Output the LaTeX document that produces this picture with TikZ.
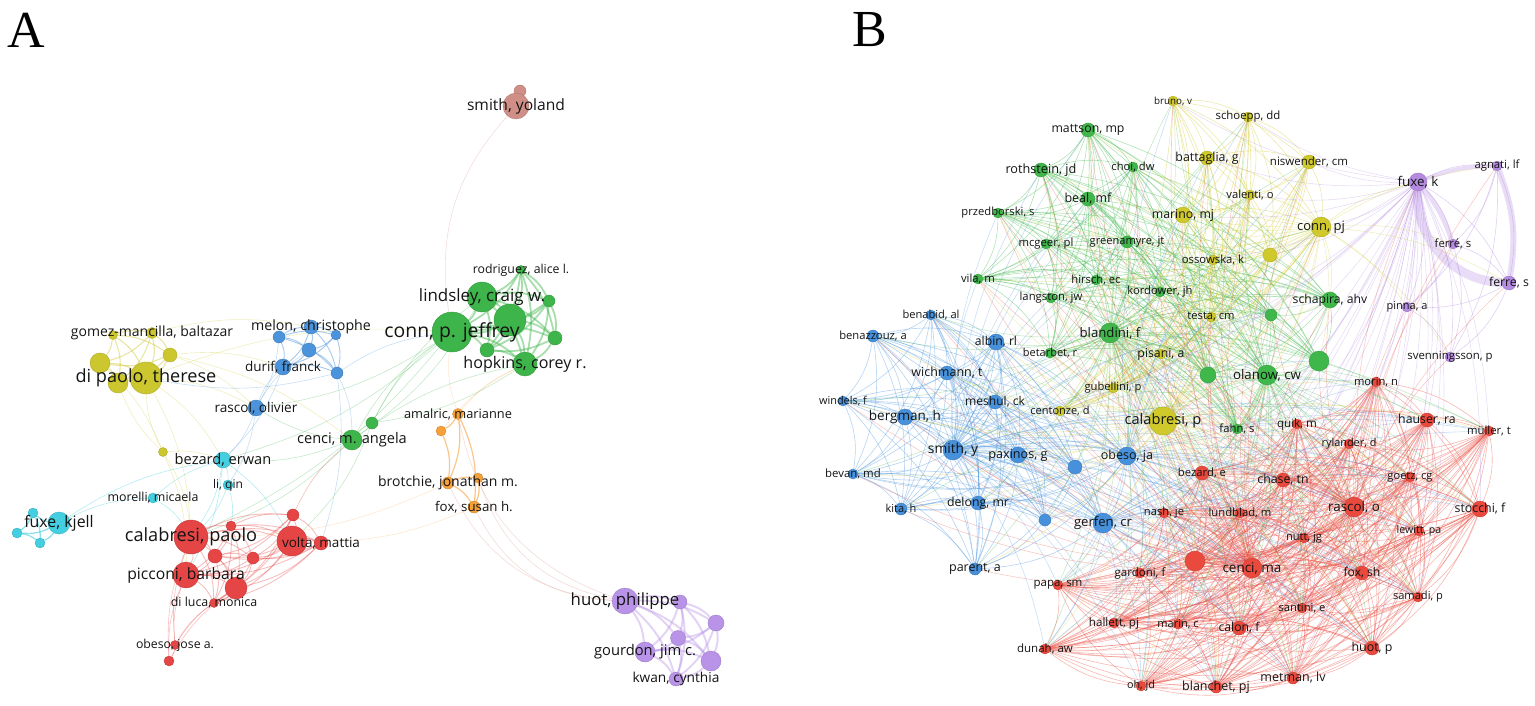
\documentclass[tikz,border=0pt]{standalone}
\usepackage{fontspec}
\setmainfont{Open Sans}
\newfontfamily\panelfont{Liberation Serif}
\usetikzlibrary{backgrounds}
\definecolor{redA}{HTML}{E64545}
\definecolor{greenA}{HTML}{3DB54A}
\definecolor{yelA}{HTML}{CCC72F}
\definecolor{blueA}{HTML}{4B93DA}
\definecolor{cyanA}{HTML}{44CFE0}
\definecolor{orangeA}{HTML}{F6A03A}
\definecolor{purpA}{HTML}{B893E8}
\definecolor{rosyA}{HTML}{CF8F86}
\definecolor{redB}{HTML}{EA4A3E}
\definecolor{greenB}{HTML}{3FB74B}
\definecolor{yelB}{HTML}{D0C92C}
\definecolor{blueB}{HTML}{4791DC}
\definecolor{purpB}{HTML}{B48BE0}

% author lists of panel B, one per cluster
\def\redB{morin,quik,hauser,muller,rylander,bezardB,chase,goetz,rascolB,stocchi,nash,lundblad,nutt,lewitt,rbx,cenciB,gardoni,foxB,samadi,santini,hallett,marin,calon,huotB,metman,ohjd,blanchet,papa,dunah}
\def\bluB{benabid,benazzouz,albin,wichmann,windels,meshul,bergman,smithB,paxinos,bbx,obesoB,bevan,kita,delong,bby,gerfen,parent}
\def\grnB{mattson,rothstein,choi,beal,przedborski,mcgeer,greenamyre,vila,hirsch,langston,kordower,blandini,betarbet,schapira,gbx,gby,gbz,olanow,fahn}
\def\yelBl{bruno,schoepp,battaglia,niswender,valenti,marino,connB,ossowska,ybx,testa,pisani,gubellini,centonze,calabB}
\def\purB{fuxeB,agnati,ferreacc,ferre,pinna,svenningsson}

\begin{document}
\begin{tikzpicture}[x=1pt, y=-1pt,
  au/.style={circle, inner sep=0pt, fill=#1, draw=#1!85!black, line width=.4pt},
  lab/.style={font=\fontsize{#1}{#1}\selectfont, text=black!92, inner sep=0pt},
  lk/.style={draw=#1, draw opacity=.4, line width=.6pt},
  panel/.style={font=\panelfont\fontsize{52}{52}\selectfont, inner sep=0pt}
]
\useasboundingbox (0,0) rectangle (1535,706);

\node[panel] (tA) at (26,30) {A};
\node[panel] (tB) at (870,30) {B};

%% ---------------- panel A ----------------
% yellow
\node[au=yelA, minimum size=9pt] (ya1) at (113,335) {};
\node[au=yelA, minimum size=11pt] (gomez) at (152,333) {};
\node[au=yelA, minimum size=14pt] (ya3) at (170,355) {};
\node[au=yelA, minimum size=20pt] (ya4) at (100,363) {};
\node[au=yelA, minimum size=20pt] (ya5) at (118,383) {};
\node[au=yelA, minimum size=32pt] (dipaolo) at (146,378) {};
\node[au=yelA, minimum size=9pt] (ya6) at (163,452) {};
% blue
\node[au=blueA, minimum size=12pt] (ba1) at (279,337) {};
\node[au=blueA, minimum size=14pt] (melon) at (311,327) {};
\node[au=blueA, minimum size=10pt] (ba2) at (336,335) {};
\node[au=blueA, minimum size=14pt] (ba3) at (309,350) {};
\node[au=blueA, minimum size=16pt] (durif) at (283,367) {};
\node[au=blueA, minimum size=12pt] (ba4) at (337,373) {};
\node[au=blueA, minimum size=16pt] (rascolA) at (256,408) {};
% green
\node[au=greenA, minimum size=12pt] (ga1) at (372,423) {};
\node[au=greenA, minimum size=20pt] (cenciA) at (352,440) {};
\node[au=greenA, minimum size=9pt] (rodriguez) at (521,270) {};
\node[au=greenA, minimum size=30pt] (lindsley) at (482,297) {};
\node[au=greenA, minimum size=12pt] (ga2) at (549,301) {};
\node[au=greenA, minimum size=32pt] (ga3) at (510,320) {};
\node[au=greenA, minimum size=40pt] (connA) at (452,332) {};
\node[au=greenA, minimum size=14pt] (ga4) at (555,338) {};
\node[au=greenA, minimum size=14pt] (ga5) at (487,350) {};
\node[au=greenA, minimum size=24pt] (hopkins) at (525,364) {};
% cyan
\node[au=cyanA, minimum size=16pt] (bezardA) at (223,460) {};
\node[au=cyanA, minimum size=10pt] (liqin) at (228,485) {};
\node[au=cyanA, minimum size=10pt] (morelli) at (153,498) {};
\node[au=cyanA, minimum size=22pt] (fuxeA) at (59,523) {};
\node[au=cyanA, minimum size=10pt] (ca1) at (33,513) {};
\node[au=cyanA, minimum size=10pt] (ca2) at (17,533) {};
\node[au=cyanA, minimum size=10pt] (ca3) at (40,543) {};
% red
\node[au=redA, minimum size=34pt] (calabA) at (191,537) {};
\node[au=redA, minimum size=10pt] (ra1) at (231,526) {};
\node[au=redA, minimum size=12pt] (ra2) at (293,515) {};
\node[au=redA, minimum size=30pt] (voltaB) at (292,541) {};
\node[au=redA, minimum size=14pt] (volta) at (321,543) {};
\node[au=redA, minimum size=14pt] (ra3) at (215,556) {};
\node[au=redA, minimum size=12pt] (ra4) at (253,558) {};
\node[au=redA, minimum size=26pt] (picconi) at (186,575) {};
\node[au=redA, minimum size=22pt] (ra5) at (236,588) {};
\node[au=redA, minimum size=9pt] (diluca) at (214,603) {};
\node[au=redA, minimum size=9pt] (obesoA) at (175,645) {};
\node[au=redA, minimum size=10pt] (ra6) at (169,661) {};
% orange
\node[au=orangeA, minimum size=11pt] (amalric) at (458,414) {};
\node[au=orangeA, minimum size=10pt] (oa1) at (441,431) {};
\node[au=orangeA, minimum size=12pt] (brotchie) at (448,483) {};
\node[au=orangeA, minimum size=10pt] (oa2) at (478,478) {};
\node[au=orangeA, minimum size=12pt] (foxA) at (474,507) {};
% purple
\node[au=purpA, minimum size=26pt] (huotA) at (625,601) {};
\node[au=purpA, minimum size=14pt] (pa1) at (680,602) {};
\node[au=purpA, minimum size=16pt] (pa2) at (716,623) {};
\node[au=purpA, minimum size=15pt] (pa3) at (678,638) {};
\node[au=purpA, minimum size=20pt] (gourdon) at (645,652) {};
\node[au=purpA, minimum size=20pt] (pa4) at (711,661) {};
\node[au=purpA, minimum size=14pt] (kwan) at (676,679) {};
% smith
\node[au=rosyA, minimum size=12pt] (sa1) at (520,91) {};
\node[au=rosyA, minimum size=26pt] (smithA) at (516,106) {};

\begin{scope}[on background layer]
  \foreach \a [count=\i] in {ya1,gomez,ya3,ya4,ya5,dipaolo}
    \foreach \b [count=\j] in {ya1,gomez,ya3,ya4,ya5,dipaolo}
      {\ifnum\j>\i \draw[lk=yelA, line width=1.1pt, draw opacity=.45] (\a) to[bend left=15] (\b);\fi}
  \foreach \a/\b in {ya6/dipaolo, ya6/ya5, ya6/calabA, ya6/picconi, ya6/bezardA, dipaolo/rascolA,
                     ya3/rascolA, ya3/durif, dipaolo/bezardA, ya4/ya6, dipaolo/calabA,
                     dipaolo/connA, gomez/melon, ya3/cenciA}
    \draw[lk=yelA, draw opacity=.3] (\a) to[bend left=12] (\b);
  \foreach \a [count=\i] in {ba1,melon,ba2,ba3,durif,ba4}
    \foreach \b [count=\j] in {ba1,melon,ba2,ba3,durif,ba4}
      {\ifnum\j>\i \draw[lk=blueA, line width=.9pt, draw opacity=.5] (\a) to[bend left=15] (\b);\fi}
  \foreach \a/\b in {rascolA/durif, rascolA/ba3, rascolA/bezardA, rascolA/liqin, ba4/volta,
                     durif/bezardA, ba4/cenciA, ba1/rascolA, ba4/dipaolo, ba4/connA}
    \draw[lk=blueA, draw opacity=.3] (\a) to[bend left=12] (\b);
  \foreach \a [count=\i] in {rodriguez,lindsley,ga2,ga3,connA,ga4,ga5,hopkins}
    \foreach \b [count=\j] in {rodriguez,lindsley,ga2,ga3,connA,ga4,ga5,hopkins}
      {\ifnum\j>\i \draw[lk=greenA, line width=1.8pt, draw opacity=.45] (\a) to[bend left=15] (\b);\fi}
  \foreach \a/\b in {ga1/connA, ga1/lindsley, cenciA/connA, cenciA/ga1, cenciA/hopkins,
                     cenciA/bezardA, cenciA/calabA, ga1/voltaB, connA/rascolA, cenciA/rascolA,
                     connA/bezardA, lindsley/cenciA, hopkins/ga1, connA/calabA}
    \draw[lk=greenA, draw opacity=.3] (\a) to[bend left=12] (\b);
  \foreach \a [count=\i] in {fuxeA,ca1,ca2,ca3}
    \foreach \b [count=\j] in {fuxeA,ca1,ca2,ca3}
      {\ifnum\j>\i \draw[lk=cyanA, line width=1.3pt, draw opacity=.6] (\a) to[bend left=15] (\b);\fi}
  \foreach \a/\b in {fuxeA/morelli, morelli/bezardA, bezardA/liqin, liqin/calabA, bezardA/calabA,
                     liqin/ra1, bezardA/voltaB, bezardA/picconi, morelli/calabA, fuxeA/bezardA}
    \draw[lk=cyanA, draw opacity=.4] (\a) to[bend left=12] (\b);
  \foreach \a [count=\i] in {calabA,ra1,ra2,voltaB,volta,ra3,ra4,picconi,ra5,diluca}
    \foreach \b [count=\j] in {calabA,ra1,ra2,voltaB,volta,ra3,ra4,picconi,ra5,diluca}
      {\ifnum\j>\i \draw[lk=redA, line width=.9pt, draw opacity=.35] (\a) to[bend left=15] (\b);\fi}
  \foreach \a/\b in {obesoA/calabA, obesoA/picconi, obesoA/ra6, ra6/picconi, obesoA/ra5,
                     ra6/calabA, obesoA/diluca, ra6/ra5, ra2/cenciA}
    \draw[lk=redA, draw opacity=.35] (\a) to[bend left=12] (\b);
  \foreach \a/\b in {amalric/oa1, oa1/brotchie, amalric/brotchie, brotchie/oa2, oa2/foxA,
                     brotchie/foxA, amalric/foxA}
    \draw[lk=orangeA, line width=1.2pt, draw opacity=.6] (\a) to[bend left=15] (\b);
  \foreach \a/\b in {amalric/connA, oa1/hopkins, amalric/hopkins, foxA/voltaB, brotchie/calabA}
    \draw[lk=orangeA, draw opacity=.25] (\a) to[bend left=12] (\b);
  \foreach \a/\b in {brotchie/huotA, foxA/huotA, oa2/huotA, amalric/huotA}
    \draw[lk=orangeA!50!purpA, draw opacity=.35] (\a) to[bend right=30] (\b);
  \foreach \a [count=\i] in {huotA,pa1,pa2,pa3,gourdon,pa4,kwan}
    \foreach \b [count=\j] in {huotA,pa1,pa2,pa3,gourdon,pa4,kwan}
      {\ifnum\j>\i \draw[lk=purpA, line width=2pt, draw opacity=.4] (\a) to[bend left=15] (\b);\fi}
  \draw[lk=rosyA, line width=1pt] (smithA) -- (sa1);
  \draw[lk=rosyA!60!white, draw opacity=.5] (smithA) to[bend right=25] (connA);
\end{scope}

% labels of panel A
\node[lab=14.0] (gomez-t) at (gomez) {gomez-mancilla, baltazar};
\node[lab=18.1] (dipaolo-t) at (dipaolo) {di paolo, therese};
\node[lab=14.2] (melon-t) at (melon) {melon, christophe};
\node[lab=13.5] (durif-t) at (durif) {durif, franck};
\node[lab=13.6] (rascolA-t) at (rascolA) {rascol, olivier};
\node[lab=14.6] (cenciA-t) at (cenciA) {cenci, m. angela};
\node[lab=12.3] (rodriguez-t) at (rodriguez) {rodriguez, alice l.};
\node[lab=16.9] (lindsley-t) at (lindsley) {lindsley, craig w.};
\node[lab=19.4] (connA-t) at (connA) {conn, p. jeffrey};
\node[lab=16.1] (hopkins-t) at (hopkins) {hopkins, corey r.};
\node[lab=14.6] (bezardA-t) at (bezardA) {bezard, erwan};
\node[lab=12.0] (liqin-t) at (liqin) {li, qin};
\node[lab=12.4] (morelli-t) at (morelli) {morelli, micaela};
\node[lab=15.9] (fuxeA-t) at (fuxeA) {fuxe, kjell};
\node[lab=18.2] (calabA-t) at (calabA) {calabresi, paolo};
\node[lab=13.5] (volta-t) at (volta) {volta, mattia};
\node[lab=15.7] (picconi-t) at (picconi) {picconi, barbara};
\node[lab=12.4] (diluca-t) at (diluca) {di luca, monica};
\node[lab=12.3] (obesoA-t) at (obesoA) {obeso, jose a.};
\node[lab=12.8] (amalric-t) at (amalric) {amalric, marianne};
\node[lab=14.0] (brotchie-t) at (brotchie) {brotchie, jonathan m.};
\node[lab=13.3] (foxA-t) at (foxA) {fox, susan h.};
\node[lab=16.8] (huotA-t) at (huotA) {huot, philippe};
\node[lab=14.7] (gourdon-t) at (gourdon) {gourdon, jim c.};
\node[lab=13.7] (kwan-t) at (kwan) {kwan, cynthia};
\node[lab=15.6] (smithA-t) at (smithA) {smith, yoland};

%% ---------------- panel B ----------------
% yellow
\node[au=yelB, minimum size=10pt] (bruno) at (1173,101) {};
\node[au=yelB, minimum size=10pt] (schoepp) at (1248,117) {};
\node[au=yelB, minimum size=14pt] (battaglia) at (1207,158) {};
\node[au=yelB, minimum size=14pt] (niswender) at (1309,162) {};
\node[au=yelB, minimum size=10pt] (valenti) at (1250,195) {};
\node[au=yelB, minimum size=16pt] (marino) at (1183,215) {};
\node[au=yelB, minimum size=20pt] (connB) at (1321,227) {};
\node[au=yelB, minimum size=10pt] (ossowska) at (1213,260) {};
\node[au=yelB, minimum size=14pt] (ybx) at (1270,255) {};
\node[au=yelB, minimum size=10pt] (testa) at (1211,317) {};
\node[au=yelB, minimum size=10pt] (pisani) at (1161,354) {};
\node[au=yelB, minimum size=10pt] (gubellini) at (1113,388) {};
\node[au=yelB, minimum size=10pt] (centonze) at (1060,411) {};
\node[au=yelB, minimum size=28pt] (calabB) at (1163,421) {};
% green
\node[au=greenB, minimum size=14pt] (mattson) at (1088,130) {};
\node[au=greenB, minimum size=14pt] (rothstein) at (1041,170) {};
\node[au=greenB, minimum size=10pt] (choi) at (1133,167) {};
\node[au=greenB, minimum size=14pt] (beal) at (1088,199) {};
\node[au=greenB, minimum size=10pt] (przedborski) at (998,213) {};
\node[au=greenB, minimum size=10pt] (mcgeer) at (1046,244) {};
\node[au=greenB, minimum size=12pt] (greenamyre) at (1127,242) {};
\node[au=greenB, minimum size=10pt] (vila) at (978,279) {};
\node[au=greenB, minimum size=10pt] (hirsch) at (1096,280) {};
\node[au=greenB, minimum size=10pt] (langston) at (1051,298) {};
\node[au=greenB, minimum size=10pt] (kordower) at (1160,292) {};
\node[au=greenB, minimum size=20pt] (blandini) at (1110,333) {};
\node[au=greenB, minimum size=10pt] (betarbet) at (1050,353) {};
\node[au=greenB, minimum size=16pt] (schapira) at (1330,300) {};
\node[au=greenB, minimum size=12pt] (gbx) at (1271,315) {};
\node[au=greenB, minimum size=20pt] (gby) at (1319,361) {};
\node[au=greenB, minimum size=16pt] (gbz) at (1208,375) {};
\node[au=greenB, minimum size=20pt] (olanow) at (1267,375) {};
\node[au=greenB, minimum size=10pt] (fahn) at (1237,429) {};
% blue
\node[au=blueB, minimum size=10pt] (benabid) at (931,315) {};
\node[au=blueB, minimum size=12pt] (benazzouz) at (873,336) {};
\node[au=blueB, minimum size=16pt] (albin) at (996,342) {};
\node[au=blueB, minimum size=14pt] (wichmann) at (947,373) {};
\node[au=blueB, minimum size=10pt] (windels) at (843,401) {};
\node[au=blueB, minimum size=14pt] (meshul) at (995,402) {};
\node[au=blueB, minimum size=16pt] (bergman) at (905,417) {};
\node[au=blueB, minimum size=20pt] (smithB) at (953,450) {};
\node[au=blueB, minimum size=16pt] (paxinos) at (1018,455) {};
\node[au=blueB, minimum size=14pt] (bbx) at (1075,467) {};
\node[au=blueB, minimum size=18pt] (obesoB) at (1127,456) {};
\node[au=blueB, minimum size=10pt] (bevan) at (853,474) {};
\node[au=blueB, minimum size=12pt] (kita) at (901,509) {};
\node[au=blueB, minimum size=14pt] (delong) at (978,503) {};
\node[au=blueB, minimum size=12pt] (bby) at (1045,520) {};
\node[au=blueB, minimum size=20pt] (gerfen) at (1103,523) {};
\node[au=blueB, minimum size=12pt] (parent) at (975,569) {};
% red
\node[au=redB, minimum size=10pt] (morin) at (1376,382) {};
\node[au=redB, minimum size=10pt] (quik) at (1297,424) {};
\node[au=redB, minimum size=14pt] (hauser) at (1427,420) {};
\node[au=redB, minimum size=10pt] (muller) at (1489,431) {};
\node[au=redB, minimum size=10pt] (rylander) at (1349,444) {};
\node[au=redB, minimum size=14pt] (bezardB) at (1202,473) {};
\node[au=redB, minimum size=14pt] (chase) at (1283,480) {};
\node[au=redB, minimum size=10pt] (goetz) at (1410,477) {};
\node[au=redB, minimum size=20pt] (rascolB) at (1354,507) {};
\node[au=redB, minimum size=16pt] (stocchi) at (1480,509) {};
\node[au=redB, minimum size=10pt] (nash) at (1164,513) {};
\node[au=redB, minimum size=10pt] (lundblad) at (1240,513) {};
\node[au=redB, minimum size=10pt] (nutt) at (1304,538) {};
\node[au=redB, minimum size=10pt] (lewitt) at (1419,531) {};
\node[au=redB, minimum size=20pt] (rbx) at (1195,561) {};
\node[au=redB, minimum size=20pt] (cenciB) at (1252,568) {};
\node[au=redB, minimum size=10pt] (gardoni) at (1140,573) {};
\node[au=redB, minimum size=14pt] (foxB) at (1362,573) {};
\node[au=redB, minimum size=10pt] (samadi) at (1418,597) {};
\node[au=redB, minimum size=10pt] (santini) at (1302,608) {};
\node[au=redB, minimum size=10pt] (hallett) at (1114,623) {};
\node[au=redB, minimum size=10pt] (marin) at (1178,624) {};
\node[au=redB, minimum size=14pt] (calon) at (1239,628) {};
\node[au=redB, minimum size=14pt] (huotB) at (1372,648) {};
\node[au=redB, minimum size=12pt] (metman) at (1293,678) {};
\node[au=redB, minimum size=10pt] (ohjd) at (1141,686) {};
\node[au=redB, minimum size=12pt] (blanchet) at (1216,687) {};
\node[au=redB, minimum size=10pt] (papa) at (1058,585) {};
\node[au=redB, minimum size=10pt] (dunah) at (1045,649) {};
% purple
\node[au=purpB, minimum size=18pt] (fuxeB) at (1418,182) {};
\node[au=purpB, minimum size=10pt] (agnati) at (1497,166) {};
\node[au=purpB, minimum size=10pt] (ferreacc) at (1453,244) {};
\node[au=purpB, minimum size=14pt] (ferre) at (1509,283) {};
\node[au=purpB, minimum size=10pt] (pinna) at (1407,307) {};
\node[au=purpB, minimum size=10pt] (svenningsson) at (1450,357) {};

\begin{scope}[on background layer]
  % links inside each cluster
  \foreach \a [count=\i] in \redB
    \foreach \b [count=\j] in \redB
      {\ifnum\j>\i \draw[lk=redB] (\a) to[bend left=16] (\b);\fi}
  \foreach \a [count=\i] in \bluB
    \foreach \b [count=\j] in \bluB
      {\ifnum\j>\i \draw[lk=blueB] (\a) to[bend left=16] (\b);\fi}
  \foreach \a [count=\i] in \grnB
    \foreach \b [count=\j] in \grnB
      {\ifnum\j>\i \draw[lk=greenB] (\a) to[bend left=16] (\b);\fi}
  \foreach \a [count=\i] in \yelBl
    \foreach \b [count=\j] in \yelBl
      {\ifnum\j>\i \draw[lk=yelB] (\a) to[bend left=16] (\b);\fi}
  \foreach \a [count=\i] in \purB
    \foreach \b [count=\j] in \purB
      {\ifnum\j>\i \draw[lk=purpB] (\a) to[bend left=16] (\b);\fi}
  % links between clusters, from the larger authors
  \foreach \b in \redB {\draw[lk=yelB, draw opacity=.3] (calabB) to[bend left=12] (\b);
                        \draw[lk=blueB, draw opacity=.3] (obesoB) to[bend left=12] (\b);
                        \draw[lk=blueB, draw opacity=.3] (gerfen) to[bend left=12] (\b);
                        \draw[lk=blueB, draw opacity=.3] (smithB) to[bend left=12] (\b);
                        \draw[lk=greenB, draw opacity=.3] (olanow) to[bend left=12] (\b);
                        \draw[lk=greenB, draw opacity=.3] (blandini) to[bend left=12] (\b);
                        \draw[lk=purpB, draw opacity=.3] (fuxeB) to[bend left=12] (\b);}
  \foreach \b in \grnB {\draw[lk=yelB, draw opacity=.3] (calabB) to[bend left=12] (\b);
                        \draw[lk=yelB, draw opacity=.3] (connB) to[bend left=12] (\b);
                        \draw[lk=blueB, draw opacity=.3] (smithB) to[bend left=12] (\b);
                        \draw[lk=redB, draw opacity=.3] (cenciB) to[bend left=12] (\b);
                        \draw[lk=redB, draw opacity=.3] (rascolB) to[bend left=12] (\b);}
  \foreach \b in \yelBl {\draw[lk=blueB, draw opacity=.3] (obesoB) to[bend left=12] (\b);
                        \draw[lk=greenB, draw opacity=.3] (olanow) to[bend left=12] (\b);
                        \draw[lk=greenB, draw opacity=.3] (blandini) to[bend left=12] (\b);
                        \draw[lk=redB, draw opacity=.3] (cenciB) to[bend left=12] (\b);
                        \draw[lk=purpB, draw opacity=.3] (fuxeB) to[bend left=12] (\b);}
  \foreach \b in \bluB {\draw[lk=yelB, draw opacity=.3] (calabB) to[bend left=12] (\b);
                        \draw[lk=greenB, draw opacity=.3] (blandini) to[bend left=12] (\b);
                        \draw[lk=redB, draw opacity=.3] (cenciB) to[bend left=12] (\b);}
  \foreach \b in {fuxeB,agnati,ferreacc,ferre,pinna,svenningsson}
    {\draw[lk=yelB, draw opacity=.3] (connB) to[bend left=12] (\b);
     \draw[lk=redB, draw opacity=.3] (rascolB) to[bend left=12] (\b);}
  % strong fuxe links
  \draw[lk=purpB, line width=9pt, draw opacity=.3] (fuxeB) to[bend right=45] (ferre);
  \draw[lk=purpB, line width=6pt, draw opacity=.3] (agnati) to[bend left=15] (ferre);
  \draw[lk=purpB, line width=5pt, draw opacity=.3] (fuxeB) to[bend left=10] (ferreacc);
  \draw[lk=purpB, line width=4pt, draw opacity=.3] (fuxeB) to[bend left=10] (agnati);
\end{scope}

% labels of panel B
\node[lab=9.8] (bruno-t) at (bruno) {bruno, v};
\node[lab=11.4] (schoepp-t) at (schoepp) {schoepp, dd};
\node[lab=12.3] (mattson-t) at (mattson) {mattson, mp};
\node[lab=12.4] (battaglia-t) at (battaglia) {battaglia, g};
\node[lab=11.5] (niswender-t) at (niswender) {niswender, cm};
\node[lab=12.7] (rothstein-t) at (rothstein) {rothstein, jd};
\node[lab=11.2] (choi-t) at (choi) {choi, dw};
\node[lab=11.3] (agnati-t) at (agnati) {agnati, lf};
\node[lab=13.4] (fuxeB-t) at (fuxeB) {fuxe, k};
\node[lab=12.5] (beal-t) at (beal) {beal, mf};
\node[lab=11.2] (valenti-t) at (valenti) {valenti, o};
\node[lab=11.2] (przedborski-t) at (przedborski) {przedborski, s};
\node[lab=12.3] (marino-t) at (marino) {marino, mj};
\node[lab=13.0] (connB-t) at (connB) {conn, pj};
\node[lab=11.3] (mcgeer-t) at (mcgeer) {mcgeer, pl};
\node[lab=11.1] (greenamyre-t) at (greenamyre) {greenamyre, jt};
\node[lab=11.3] (ossowska-t) at (ossowska) {ossowska, k};
\node[lab=11.3] (ferreacc-t) at (ferreacc) {ferré, s};
\node[lab=12.3] (ferre-t) at (ferre) {ferre, s};
\node[lab=11.3] (vila-t) at (vila) {vila, m};
\node[lab=11.2] (hirsch-t) at (hirsch) {hirsch, ec};
\node[lab=11.3] (langston-t) at (langston) {langston, jw};
\node[lab=11.2] (kordower-t) at (kordower) {kordower, jh};
\node[lab=12.2] (schapira-t) at (schapira) {schapira, ahv};
\node[lab=11.0] (pinna-t) at (pinna) {pinna, a};
\node[lab=11.2] (testa-t) at (testa) {testa, cm};
\node[lab=11.1] (benabid-t) at (benabid) {benabid, al};
\node[lab=11.2] (benazzouz-t) at (benazzouz) {benazzouz, a};
\node[lab=12.2] (albin-t) at (albin) {albin, rl};
\node[lab=13.2] (blandini-t) at (blandini) {blandini, f};
\node[lab=11.0] (betarbet-t) at (betarbet) {betarbet, r};
\node[lab=12.3] (pisani-t) at (pisani) {pisani, a};
\node[lab=11.4] (svenningsson-t) at (svenningsson) {svenningsson, p};
\node[lab=12.5] (wichmann-t) at (wichmann) {wichmann, t};
\node[lab=13.3] (olanow-t) at (olanow) {olanow, cw};
\node[lab=11.2] (morin-t) at (morin) {morin, n};
\node[lab=11.2] (gubellini-t) at (gubellini) {gubellini, p};
\node[lab=10.9] (windels-t) at (windels) {windels, f};
\node[lab=12.1] (meshul-t) at (meshul) {meshul, ck};
\node[lab=11.0] (centonze-t) at (centonze) {centonze, d};
\node[lab=13.5] (bergman-t) at (bergman) {bergman, h};
\node[lab=14.6] (calabB-t) at (calabB) {calabresi, p};
\node[lab=11.3] (fahn-t) at (fahn) {fahn, s};
\node[lab=11.6] (quik-t) at (quik) {quik, m};
\node[lab=12.3] (hauser-t) at (hauser) {hauser, ra};
\node[lab=11.3] (muller-t) at (muller) {müller, t};
\node[lab=10.9] (rylander-t) at (rylander) {rylander, d};
\node[lab=13.8] (smithB-t) at (smithB) {smith, y};
\node[lab=12.6] (paxinos-t) at (paxinos) {paxinos, g};
\node[lab=12.5] (obesoB-t) at (obesoB) {obeso, ja};
\node[lab=11.4] (bevan-t) at (bevan) {bevan, md};
\node[lab=11.3] (bezardB-t) at (bezardB) {bezard, e};
\node[lab=12.3] (chase-t) at (chase) {chase, tn};
\node[lab=11.1] (goetz-t) at (goetz) {goetz, cg};
\node[lab=11.0] (kita-t) at (kita) {kita, h};
\node[lab=12.3] (delong-t) at (delong) {delong, mr};
\node[lab=13.4] (rascolB-t) at (rascolB) {rascol, o};
\node[lab=12.4] (stocchi-t) at (stocchi) {stocchi, f};
\node[lab=13.1] (gerfen-t) at (gerfen) {gerfen, cr};
\node[lab=11.2] (nash-t) at (nash) {nash, je};
\node[lab=11.3] (lundblad-t) at (lundblad) {lundblad, m};
\node[lab=11.1] (nutt-t) at (nutt) {nutt, jg};
\node[lab=10.6] (lewitt-t) at (lewitt) {lewitt, pa};
\node[lab=12.5] (parent-t) at (parent) {parent, a};
\node[lab=11.5] (gardoni-t) at (gardoni) {gardoni, f};
\node[lab=13.5] (cenciB-t) at (cenciB) {cenci, ma};
\node[lab=12.1] (foxB-t) at (foxB) {fox, sh};
\node[lab=11.5] (papa-t) at (papa) {papa, sm};
\node[lab=11.1] (samadi-t) at (samadi) {samadi, p};
\node[lab=11.2] (santini-t) at (santini) {santini, e};
\node[lab=11.6] (hallett-t) at (hallett) {hallett, pj};
\node[lab=11.0] (marin-t) at (marin) {marin, c};
\node[lab=12.2] (calon-t) at (calon) {calon, f};
\node[lab=11.5] (dunah-t) at (dunah) {dunah, aw};
\node[lab=12.4] (huotB-t) at (huotB) {huot, p};
\node[lab=12.5] (metman-t) at (metman) {metman, lv};
\node[lab=10.8] (ohjd-t) at (ohjd) {oh, jd};
\node[lab=12.5] (blanchet-t) at (blanchet) {blanchet, pj};

\end{tikzpicture}
\end{document}
